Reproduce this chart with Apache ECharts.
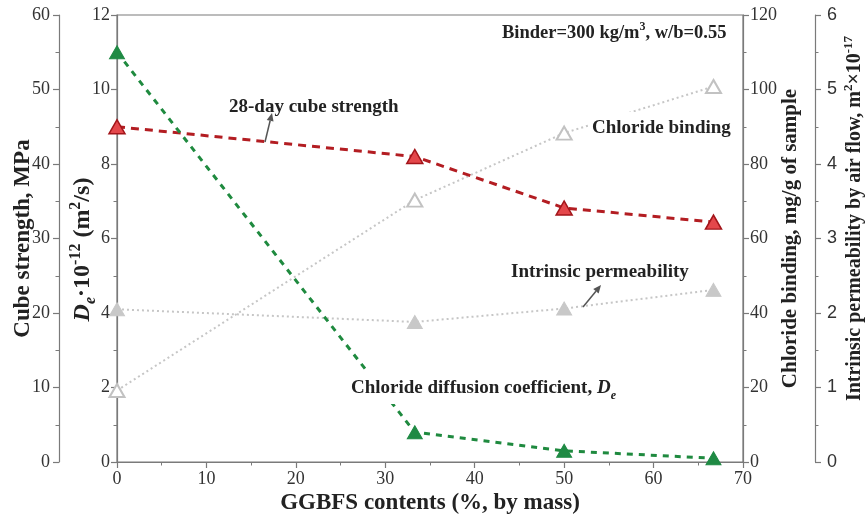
<!DOCTYPE html>
<html>
<head>
<meta charset="utf-8">
<script src="https://cdn.jsdelivr.net/npm/echarts@6/dist/echarts.min.js"></script>
<style>
html,body{margin:0;padding:0;background:#fff;}
#chart{width:865px;height:520px;}
</style>
</head>
<body>
<div id="chart"></div>
<script>
// ---- data ----
const ggbfs = [0, 33.3, 50, 66.7];
const cubeStrength = [45.0, 41.0, 34.1, 32.2];
const diffusionCoeff = [11.0, 0.8, 0.3, 0.1];
const chlorideBinding = [19.2, 70.3, 88.3, 100.8];
const permeability = [2.05, 1.88, 2.06, 2.31];

const xTicks = {min: 0, max: 70, interval: 10};
const cubeTicks = {min: 0, max: 60, interval: 10};
const deTicks = {min: 0, max: 12, interval: 2};
const bindTicks = {min: 0, max: 120, interval: 20};
const permTicks = {min: 0, max: 6, interval: 1};

const SERIF = '"Liberation Serif", "Times New Roman", serif';
const SANS = '"Liberation Sans", Arial, sans-serif';
const AXC = '#7a7a7a';
const TXT = '#222';

function pairs(ys) { return ggbfs.map((x, i) => [x, ys[i]]); }

function axisBase(font, margin, nameSize) {
  return {
    axisLine: {show: true, onZero: false, lineStyle: {color: AXC, width: 1.2}},
    axisTick: {show: true, inside: false, length: 6, lineStyle: {color: AXC, width: 1.2}},
    minorTick: {show: true, splitNumber: 2, length: 3.5, lineStyle: {color: AXC, width: 1}},
    splitLine: {show: false},
    axisLabel: {fontFamily: font, fontSize: 18, color: '#333', margin: margin},
    nameLocation: 'middle',
    nameMoveOverlap: false,
    nameTextStyle: {fontFamily: SERIF, fontSize: nameSize || 22, fontWeight: 'bold', color: TXT}
  };
}

function rich(fs, ss) {
  return {
    n: {fontFamily: SERIF, fontSize: fs, fontWeight: 'bold', color: TXT, fill: TXT},
    i: {fontFamily: SERIF, fontSize: fs, fontWeight: 'bold', fontStyle: 'italic', color: TXT, fill: TXT},
    s: {fontFamily: SERIF, fontSize: ss, fontWeight: 'bold', fontStyle: 'italic', color: TXT, fill: TXT, verticalAlign: 'bottom', padding: [0, 0, -4, 0]},
    p: {fontFamily: SERIF, fontSize: ss, fontWeight: 'bold', color: TXT, fill: TXT, verticalAlign: 'top', padding: [-3, 0, 0, 0]}
  };
}

function arrow(x1, y1, x2, y2) {
  const ang = Math.atan2(y2 - y1, x2 - x1);
  const L = 8, W = 3.5;
  const bx = x2 - L * Math.cos(ang), by = y2 - L * Math.sin(ang);
  const px = -Math.sin(ang) * W, py = Math.cos(ang) * W;
  return [
    {type: 'line', shape: {x1: x1, y1: y1, x2: bx, y2: by}, style: {stroke: '#555', lineWidth: 1.5}, z: 20},
    {type: 'polygon', shape: {points: [[x2, y2], [bx + px, by + py], [bx - px, by - py]]}, style: {fill: '#555'}, z: 20}
  ];
}

function label(text, x, y, opts) {
  const o = opts || {};
  const fs = o.fontSize || 19;
  return {
    type: 'text', x: x, y: y, z: 30,
    style: Object.assign({
      text: text,
      fontFamily: SERIF, fontSize: fs, fontWeight: 'bold', fill: TXT,
      textAlign: 'left', textVerticalAlign: 'middle',
      align: 'left', verticalAlign: 'middle',
      rich: rich(fs, 12)
    }, o.bg ? {backgroundColor: '#fff', padding: o.pad || [6, 4]} : {})
  };
}

const chart = echarts.init(document.getElementById('chart'), null, {renderer: 'canvas'});

const option = {
  backgroundColor: '#fff',
  animation: false,
  grid: {left: 117, right: 122, top: 15, bottom: 58, containLabel: false, outerBoundsMode: 'none',
    show: true, borderColor: AXC, borderWidth: 1.2, backgroundColor: 'transparent'},
  xAxis: Object.assign(axisBase(SERIF, 8, 23), {
    type: 'value', min: xTicks.min, max: xTicks.max, interval: xTicks.interval,
    name: 'GGBFS contents (%, by mass)', nameGap: 30
  }),
  yAxis: [
    Object.assign(axisBase(SERIF, 9, 23), {
      type: 'value', position: 'left', offset: 58,
      min: cubeTicks.min, max: cubeTicks.max, interval: cubeTicks.interval,
      name: 'Cube strength, MPa', nameGap: 24
    }),
    Object.assign(axisBase(SERIF, 7, 24), {
      type: 'value', position: 'left', offset: 0,
      min: deTicks.min, max: deTicks.max, interval: deTicks.interval,
      name: '{i|D}{s|e}{n|·10}{p|-12}{n| (m}{p|2}{n|/s)}', nameGap: 22,
      nameTextStyle: {fontFamily: SERIF, fontSize: 24, fontWeight: 'bold', color: TXT, rich: rich(24, 16), padding: [0, 22, 0, 0]}
    }),
    Object.assign(axisBase(SERIF, 7, 21), {
      type: 'value', position: 'right', offset: 0,
      min: bindTicks.min, max: bindTicks.max, interval: bindTicks.interval,
      name: 'Chloride binding, mg/g of sample', nameGap: 37
    }),
    Object.assign(axisBase(SANS, 12, 20), {
      type: 'value', position: 'right', offset: 72,
      min: permTicks.min, max: permTicks.max, interval: permTicks.interval,
      name: '{n|Intrinsic permeability by air flow, m}{p|2}{n|×10}{p|-17}', nameGap: 30,
      nameTextStyle: {fontFamily: SERIF, fontSize: 20, fontWeight: 'bold', color: TXT, rich: rich(20, 13), padding: [0, 0, 0, 40]}
    })
  ],
  series: [
    {
      name: 'Chloride binding', type: 'line', yAxisIndex: 2, data: pairs(chlorideBinding),
      symbol: 'triangle', symbolSize: [15, 13],
      lineStyle: {color: '#c6c6c6', width: 2, type: [2, 3]},
      itemStyle: {color: '#fff', borderColor: '#c2c2c2', borderWidth: 2},
      z: 2
    },
    {
      name: 'Intrinsic permeability', type: 'line', yAxisIndex: 3, data: pairs(permeability),
      symbol: 'triangle', symbolSize: [15, 13],
      lineStyle: {color: '#c6c6c6', width: 2, type: [2, 3]},
      itemStyle: {color: '#c8c8c8', borderColor: '#c8c8c8', borderWidth: 1},
      z: 2
    },
    {
      name: '28-day cube strength', type: 'line', yAxisIndex: 0, data: pairs(cubeStrength),
      symbol: 'triangle', symbolSize: [16, 14],
      lineStyle: {color: '#b31d22', width: 3, type: [8, 6]},
      itemStyle: {color: '#e4474b', borderColor: '#a3151a', borderWidth: 1.5},
      z: 3
    },
    {
      name: 'Chloride diffusion coefficient', type: 'line', yAxisIndex: 1, data: pairs(diffusionCoeff),
      symbol: 'triangle', symbolSize: [15, 13],
      lineStyle: {color: '#1f8a3f', width: 3, type: [6, 6]},
      itemStyle: {color: '#1f8a44', borderColor: '#1f8a44', borderWidth: 1},
      z: 3
    }
  ],
  graphic: [
    label('{n|Binder=300 kg/m}{p|3}{n|, w/b=0.55}', 502, 33, {fontSize: 18.5}),
    label('28-day cube strength', 229, 107),
    label('Chloride binding', 588, 127, {bg: true, pad: [7, 4, 4, 4]}),
    label('Intrinsic permeability', 511, 272),
    label('{n|Chloride diffusion coefficient, }{i|D}{s|e}', 348, 388, {bg: true, pad: [7, 3, 6, 3]})
  ].concat(arrow(265, 142, 272, 113)).concat(arrow(583, 307, 601, 285))
};

chart.setOption(option);
</script>
</body>
</html>
